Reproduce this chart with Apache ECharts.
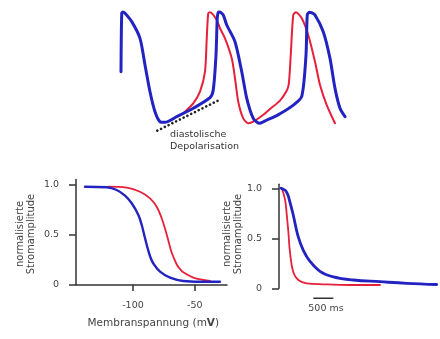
<!DOCTYPE html>
<html>
<head>
<meta charset="utf-8">
<script src="https://cdn.jsdelivr.net/npm/echarts@6/dist/echarts.min.js"></script>
<style>html,body{margin:0;padding:0;background:#fff;}#c{width:440px;height:339px;}</style>
</head>
<body>
<div id="c"></div>
<script>
// ---- top: action potentials (time ms, voltage mV) ----
const apBlueT = [4, 7, 12, 20, 47, 80, 100, 120, 140, 160, 180, 227, 293, 360, 373, 384, 389, 393, 398, 413, 427, 460, 487, 507, 533, 557, 587, 627, 692, 727, 744, 749, 757, 765, 780, 813, 840, 860, 880, 900];
const apBlueV = [-21.4, 27.5, 28.3, 27.3, 20.3, 6.4, -15.8, -38.1, -54.8, -63.1, -63.6, -58.9, -51.9, -43.1, -36.7, -7.5, 23.1, 28.1, 28.3, 25.8, 17.5, 3.6, -21.4, -43.6, -60.3, -64.4, -61.7, -58.0, -49.5, -42.0, -7.5, 25.8, 28.1, 27.8, 25.8, 11.9, -10.3, -35.3, -51.9, -58.9];
const apRedT = [250, 260, 293, 320, 340, 347, 353, 360, 387, 400, 420, 447, 460, 473, 493, 513, 533, 572, 600, 640, 665, 675, 683, 693, 704, 727, 753, 780, 800, 827, 860];
const apRedV = [-56.5, -54.8, -47.8, -38.1, -21.4, 6.4, 27.3, 28.1, 21.7, 14.8, 6.4, -10.3, -26.9, -46.4, -60.3, -64.4, -63.1, -57.5, -52.5, -45.5, -38.0, -32.0, -7.5, 25.8, 28.1, 23.1, 9.2, -13.1, -32.5, -49.2, -64.4];
const diastT = [149, 397];
const diastV = [-70.6, -45];

// ---- bottom left: inactivation vs membrane voltage ----
const ivBlueMV = [-138.7, -121.2, -113.1, -106.4, -101.0, -95.6, -92.9, -90.2, -87.6, -85.5, -83.5, -78.1, -70.0, -59.3, -45.8, -29.7];
const ivBlueAmp = [0.978, 0.972, 0.945, 0.888, 0.812, 0.695, 0.595, 0.462, 0.34, 0.26, 0.21, 0.128, 0.068, 0.035, 0.028, 0.028];
const ivRedMV = [-119.9, -105.0, -94.3, -86.2, -80.8, -76.7, -74.1, -71.4, -68.7, -64.6, -62.0, -59.3, -51.2, -43.1, -37.7];
const ivRedAmp = [0.978, 0.968, 0.928, 0.862, 0.778, 0.66, 0.56, 0.44, 0.32, 0.2, 0.155, 0.122, 0.068, 0.045, 0.035];
const ivXTicks = [-100, -50];
const ampTicks = [0, 0.5, 1.0];

// ---- bottom right: current decay over time (ms) ----
const decBlueT = [0, 60, 120, 175, 225, 308, 420, 558, 725, 975, 1308, 1808, 2475, 3143, 3893];
const decBlueAmp = [1.0, 0.99, 0.975, 0.93, 0.86, 0.73, 0.53, 0.38, 0.27, 0.17, 0.115, 0.083, 0.066, 0.05, 0.038];
const decRedT = [18, 100, 143, 183, 225, 308, 433, 643, 1058, 1725, 2475];
const decRedAmp = [1.0, 0.89, 0.74, 0.57, 0.36, 0.16, 0.083, 0.05, 0.04, 0.033, 0.033];
const scaleBarT = [808, 1308];
const scaleBarY = [-0.1, -0.1];

const BLUE = '#2323c2';
const RED = '#e6203a';
const FONT = 'DejaVu Sans';
const zip = (a, b) => a.map((v, i) => [v, b[i]]);

const ampAxis = (gi, max) => ({
  gridIndex: gi, type: 'value', min: 0, max: max,
  axisLine: { show: true, onZero: false, lineStyle: { color: '#333', width: 1.5 } },
  axisTick: { show: true, length: 7, customValues: ampTicks, lineStyle: { color: '#333', width: 1.5 } },
  axisLabel: { show: true, customValues: ampTicks, margin: 17, fontFamily: FONT, fontSize: 9.5, color: '#444',
    formatter: v => (v === 0 ? '0' : v.toFixed(1)) },
  splitLine: { show: false }
});

const line = (xi, yi, data, color, width, z, sm) => ({
  type: 'line', xAxisIndex: xi, yAxisIndex: yi, data: data, showSymbol: false, symbol: 'none',
  smooth: sm, silent: true, z: z,
  lineStyle: { color: color, width: width, join: 'round', cap: 'round' }
});

const chart = echarts.init(document.getElementById('c'), null, { renderer: 'canvas' });
chart.setOption({
  animation: false,
  backgroundColor: '#fff',
  grid: [
    { left: 120, top: 10, width: 225, height: 126 },
    { left: 76, top: 179.5, width: 151, height: 105 },
    { left: 279, top: 184.3, width: 160, height: 104 }
  ],
  xAxis: [
    { gridIndex: 0, type: 'value', min: 0, max: 900, show: false },
    { gridIndex: 1, type: 'value', min: -146, max: -24,
      axisLine: { show: true, onZero: false, lineStyle: { color: '#333', width: 1.5 } },
      axisTick: { show: true, length: 6.5, customValues: ivXTicks, lineStyle: { color: '#333', width: 1.5 } },
      axisLabel: { show: true, customValues: ivXTicks, margin: 16, fontFamily: FONT, fontSize: 9.5, color: '#444' },
      splitLine: { show: false } },
    { gridIndex: 2, type: 'value', min: -50, max: 3950, show: false }
  ],
  yAxis: [
    { gridIndex: 0, type: 'value', min: -75, max: 30, show: false },
    ampAxis(1, 1.05),
    ampAxis(2, 1.04)
  ],
  series: [
    line(0, 0, zip(apRedT, apRedV), RED, 2, 2, 0.25),
    line(0, 0, zip(apBlueT, apBlueV), BLUE, 3, 3, 0.25),
    { type: 'line', xAxisIndex: 0, yAxisIndex: 0, data: zip(diastT, diastV), showSymbol: false, symbol: 'none', silent: true, clip: false,
      lineStyle: { color: '#222', width: 2.6, type: [0.1, 4.1], cap: 'round' } },
    line(1, 1, zip(ivRedMV, ivRedAmp), RED, 1.8, 2, 0.4),
    line(1, 1, zip(ivBlueMV, ivBlueAmp), BLUE, 2.4, 3, 0.4),
    line(2, 2, zip(decRedT, decRedAmp), RED, 1.8, 2, 0.4),
    line(2, 2, zip(decBlueT, decBlueAmp), BLUE, 2.8, 3, 0.4),
    { type: 'line', xAxisIndex: 2, yAxisIndex: 2, data: zip(scaleBarT, scaleBarY), showSymbol: false, symbol: 'none', silent: true, clip: false,
      lineStyle: { color: '#333', width: 1.5 } }
  ],
  graphic: [
    { type: 'text', left: 170, top: 130, silent: true,
      style: { text: 'diastolische', fontFamily: FONT, fontSize: 9.5, fill: '#333' } },
    { type: 'text', left: 170, top: 141.5, silent: true,
      style: { text: 'Depolarisation', fontFamily: FONT, fontSize: 9.5, fill: '#333' } },
    { type: 'text', x: 26, y: 234, rotation: Math.PI / 2, silent: true,
      style: { text: 'normalisierte\nStromamplitude', fontFamily: FONT, fontSize: 10, lineHeight: 11.5, fill: '#444', align: 'center', verticalAlign: 'middle' } },
    { type: 'text', x: 232.5, y: 234, rotation: Math.PI / 2, silent: true,
      style: { text: 'normalisierte\nStromamplitude', fontFamily: FONT, fontSize: 10, lineHeight: 11, fill: '#444', align: 'center', verticalAlign: 'middle' } },
    { type: 'text', x: 153.3, y: 323.3, silent: true,
      style: { text: 'Membranspannung (m{b|V})', rich: { b: { fontWeight: 'bold', fontFamily: FONT, fontSize: 10.5, fill: '#444' } },
        fontFamily: FONT, fontSize: 10.5, fill: '#444', align: 'center', verticalAlign: 'middle' } },
    { type: 'text', x: 326, y: 309, silent: true,
      style: { text: '500 ms', fontFamily: FONT, fontSize: 9.5, fill: '#444', align: 'center', verticalAlign: 'middle' } }
  ]
});
</script>
</body>
</html>
